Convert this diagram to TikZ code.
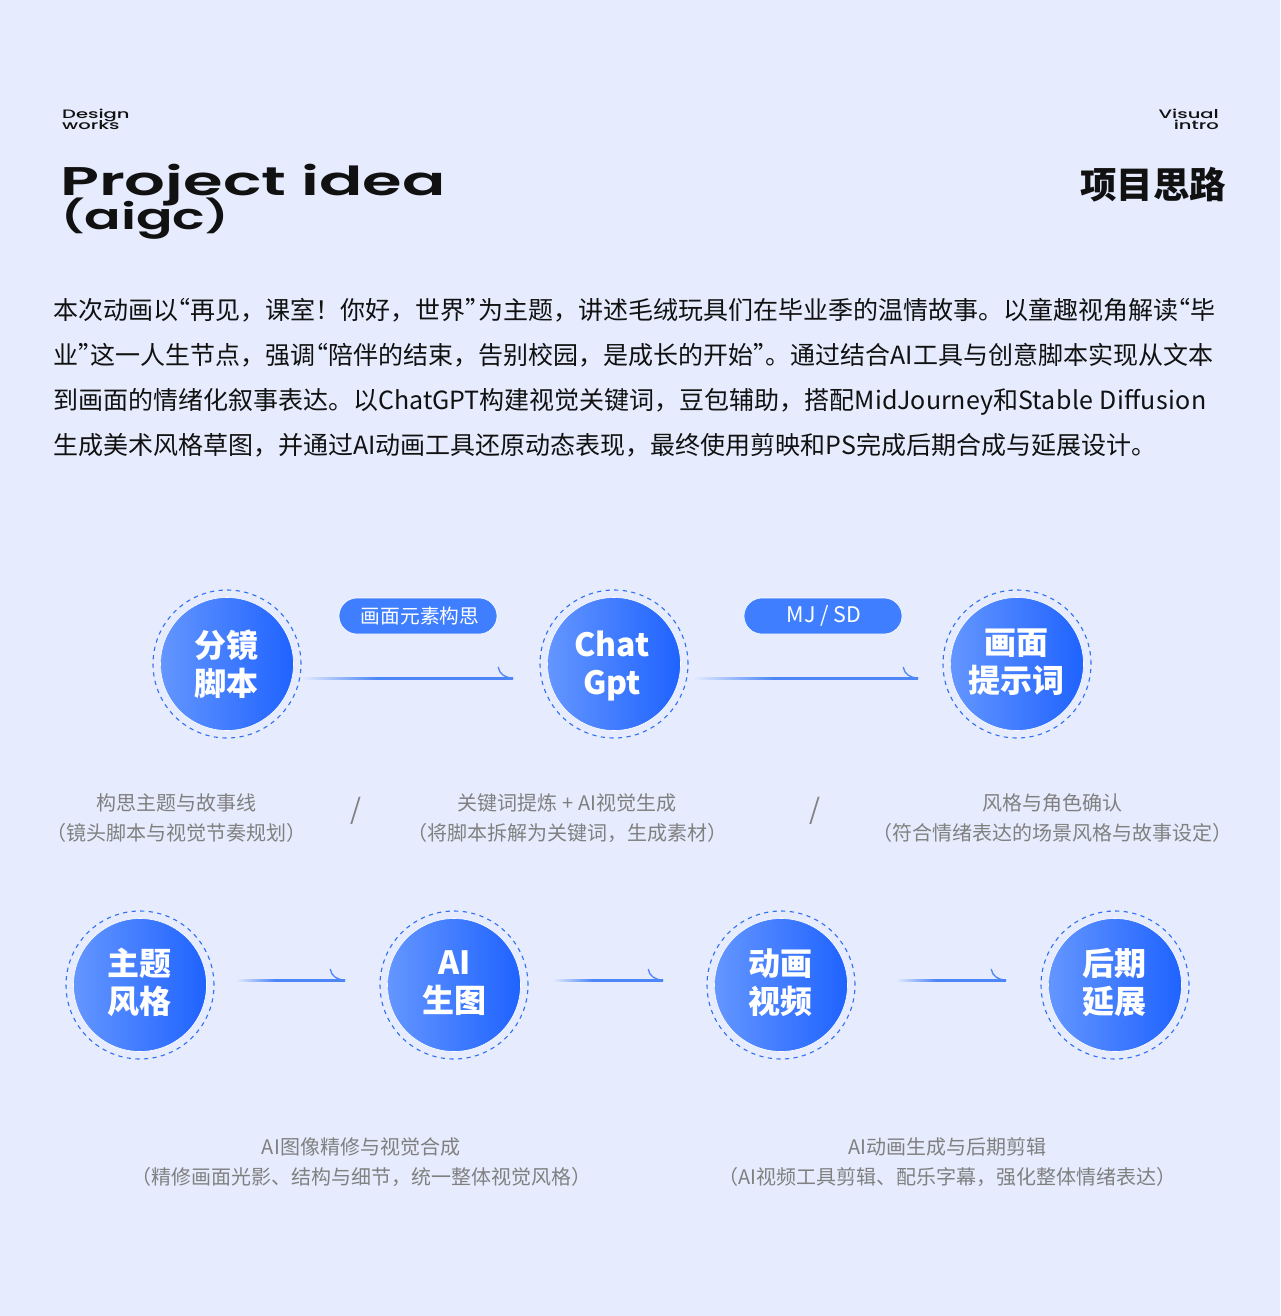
\documentclass[tikz,border=0pt]{standalone}
\usepackage{fontspec}
\usetikzlibrary{calc}
\setmainfont{Noto Sans CJK SC}
\newfontfamily\cjk{Noto Sans CJK SC}
\newfontfamily\wide[FakeStretch=1.6,UprightFont=* Medium,BoldFont=* SemiBold]{Poppins}
\newfontfamily\widec[FakeStretch=1.5,UprightFont=* Medium,BoldFont=* SemiBold]{Poppins}
\definecolor{bgc}{HTML}{E6ECFE}
\definecolor{bluec}{HTML}{4C86F8}
\definecolor{pillc}{HTML}{3F7FFF}
\definecolor{lightc}{HTML}{6496FF}
\definecolor{deepc}{HTML}{1F63FF}
\definecolor{ringc}{HTML}{2F6FF5}
\definecolor{grayc}{HTML}{808080}
\definecolor{inkc}{HTML}{111111}
\pgfdeclarehorizontalshading{fadeline}{100bp}{color(0bp)=(bgc); color(25bp)=(bgc); color(43bp)=(bluec); color(75bp)=(bluec); color(100bp)=(bluec)}
\newcommand{\oq}{\kern-.5em“}
\newcommand{\cq}{”\kern-.5em}
\newcommand{\ltr}[1]{{\addfontfeature{LetterSpace=1.5}#1}}
\newcommand{\paren}[1]{\raisebox{1.2pt}{\fontsize{32}{36}\selectfont #1}}
\tikzset{
 disc/.style={circle,minimum size=133pt,inner sep=0pt,left color=lightc,right color=deepc,draw=white,line width=.6pt},
 ring/.style={circle,minimum size=148pt,inner sep=0pt,draw=ringc,line width=1.1pt,dash pattern=on 4.3pt off 4.3pt},
 disclabel/.style={text=white,align=center,font=\cjk\bfseries\fontsize{32}{38}\selectfont,inner sep=0pt},
 pill/.style={rounded corners=18pt,minimum width=158pt,minimum height=36pt,inner sep=0pt,fill=pillc,draw=white,line width=.6pt,text=white,font=\cjk\fontsize{20}{24}\selectfont},
 body/.style={anchor=base west,inner sep=0pt,text=inkc,font=\cjk\fontsize{25}{30}\selectfont},
 caption/.style={align=center,inner sep=0pt,text=grayc,font=\cjk\fontsize{20}{30}\selectfont},
 small/.style={inner sep=0pt,text=inkc,font=\wide\fontsize{12.2}{10.5}\selectfont},
 hook/.style={draw=bluec,line width=1.3pt},
 bigtitle/.style={inner sep=0pt,anchor=base west,text=inkc},
}
\newcommand{\conn}[6]{% from, to, start dx, end dx, dy, name
 \coordinate (#6s) at ($(#1.east)+(#3,#5)$);
 \coordinate (#6e) at ($(#2.west)+(#4,#5)$);
 \coordinate (#6h) at ($(#6e)+(-15,-11)$);
 \shade[shading=fadeline] ($(#6s)+(0,-1)$) rectangle ($(#6e)+(0,1)$);
 \draw[hook] (#6h) .. controls ($(#6h)+(1,7)$) and ($(#6h)+(7,11)$) .. (#6e);
}
\begin{document}
\begin{tikzpicture}[x=1pt,y=-1pt]
\useasboundingbox (0,0) rectangle (1280,1316);
\fill[bgc] (0,0) rectangle (1280,1316);
\node[small,anchor=base west] (t1a) at (62,118.5) {Design};
\node[small,anchor=base west] (t1b) at (62,130) {works};
\node[small,anchor=base east] (t2a) at (1219,118.5) {Visual};
\node[small,anchor=base east] (t2b) at (1219,130) {intro};
\node[bigtitle,font=\wide\bfseries\fontsize{40}{44}\selectfont] (t3a) at (60,195) {Project idea};
\node[bigtitle,font=\widec\bfseries\fontsize{36}{44}\selectfont] (t3b) at (61,229) {\paren{(}aigc\paren{)}};
\node[inner sep=0pt,anchor=east,text=inkc,font=\cjk\bfseries\fontsize{36.5}{44}\selectfont] (t4) at (1226.5,185) {项目思路};
\node[body] (p1) at (53,319) {本次动画以\oq 再见，课室！你好，世界\cq 为主题，讲述毛绒玩具们在毕业季的温情故事。以童趣视角解读\oq 毕};
\node[body] (p2) at (53,364) {业\cq 这一人生节点，强调\oq 陪伴的结束，告别校园，是成长的开始\cq 。通过结合AI工具与创意脚本实现从文本};
\node[body] (p3) at (53,409) {到画面的情绪化叙事表达。以ChatGPT构建视觉关键词，豆包辅助，搭配MidJourney和\ltr{Stable Diffusion}};
\node[body] (p4) at (53,454) {生成美术风格草图，并通过AI动画工具还原动态表现，最终使用剪映和PS完成后期合成与延展设计。};
% discs
\foreach \n/\x/\y in {c1/227/664,c2/614/664,c3/1017/664,c4/140/985,c5/454/985,c6/781/985,c7/1115/985}{
 \node[ring] (\n r) at (\x,\y) {};
 \node[disc] (\n) at (\x,\y) {};
}
\node[disclabel] (l1) at (226,664) {分镜\\脚本};
\node[disclabel] (l2) at (612,666) {Chat\\Gpt};
\node[disclabel] (l3) at (1016,662.5) {画面\\提示词};
\node[disclabel] (l4) at (139,982) {主题\\风格};
\node[disclabel] (l5) at (454.5,983) {AI\\生图};
\node[disclabel] (l6) at (780,983) {动画\\视频};
\node[disclabel] (l7) at (1114,982) {后期\\延展};
\node[pill] (b1) at (418,616) {\hspace{4pt}\fontsize{19.7}{24}\selectfont 画面元素构思};
\node[pill] (b2) at (823,616) {\hspace{2pt}\fontsize{21.5}{24}\selectfont MJ / SD};
\conn{c1}{c2}{7}{-34}{14}{k1}
\conn{c2}{c3}{12}{-32}{14}{k2}
\conn{c4}{c5}{29}{-42}{-5}{k3}
\conn{c5}{c6}{32}{-51}{-5}{k4}
\conn{c6}{c7}{48}{-42}{-5}{k5}
\node[caption] (d1) at (176,818) {构思主题与故事线\\（镜头脚本与视觉节奏规划）};
\node[caption] (d2) at (567,818) {关键词提炼 + AI视觉生成\\（将脚本拆解为关键词，生成素材）};
\node[caption] (d3) at (1052,818) {风格与角色确认\\（符合情绪表达的场景风格与故事设定）};
\node[caption] (d4) at (361,1162) {AI图像精修与视觉合成\\（精修画面光影、结构与细节，统一整体视觉风格）};
\node[caption] (d5) at (947,1162) {AI动画生成与后期剪辑\\（AI视频工具剪辑、配乐字幕，强化整体情绪表达）};
\node[inner sep=0pt,text=grayc,font=\cjk\fontsize{28}{30}\selectfont] (s1) at (355.5,811) {/};
\node[inner sep=0pt,text=grayc,font=\cjk\fontsize{28}{30}\selectfont] (s2) at (814.5,811) {/};
\end{tikzpicture}
\end{document}
